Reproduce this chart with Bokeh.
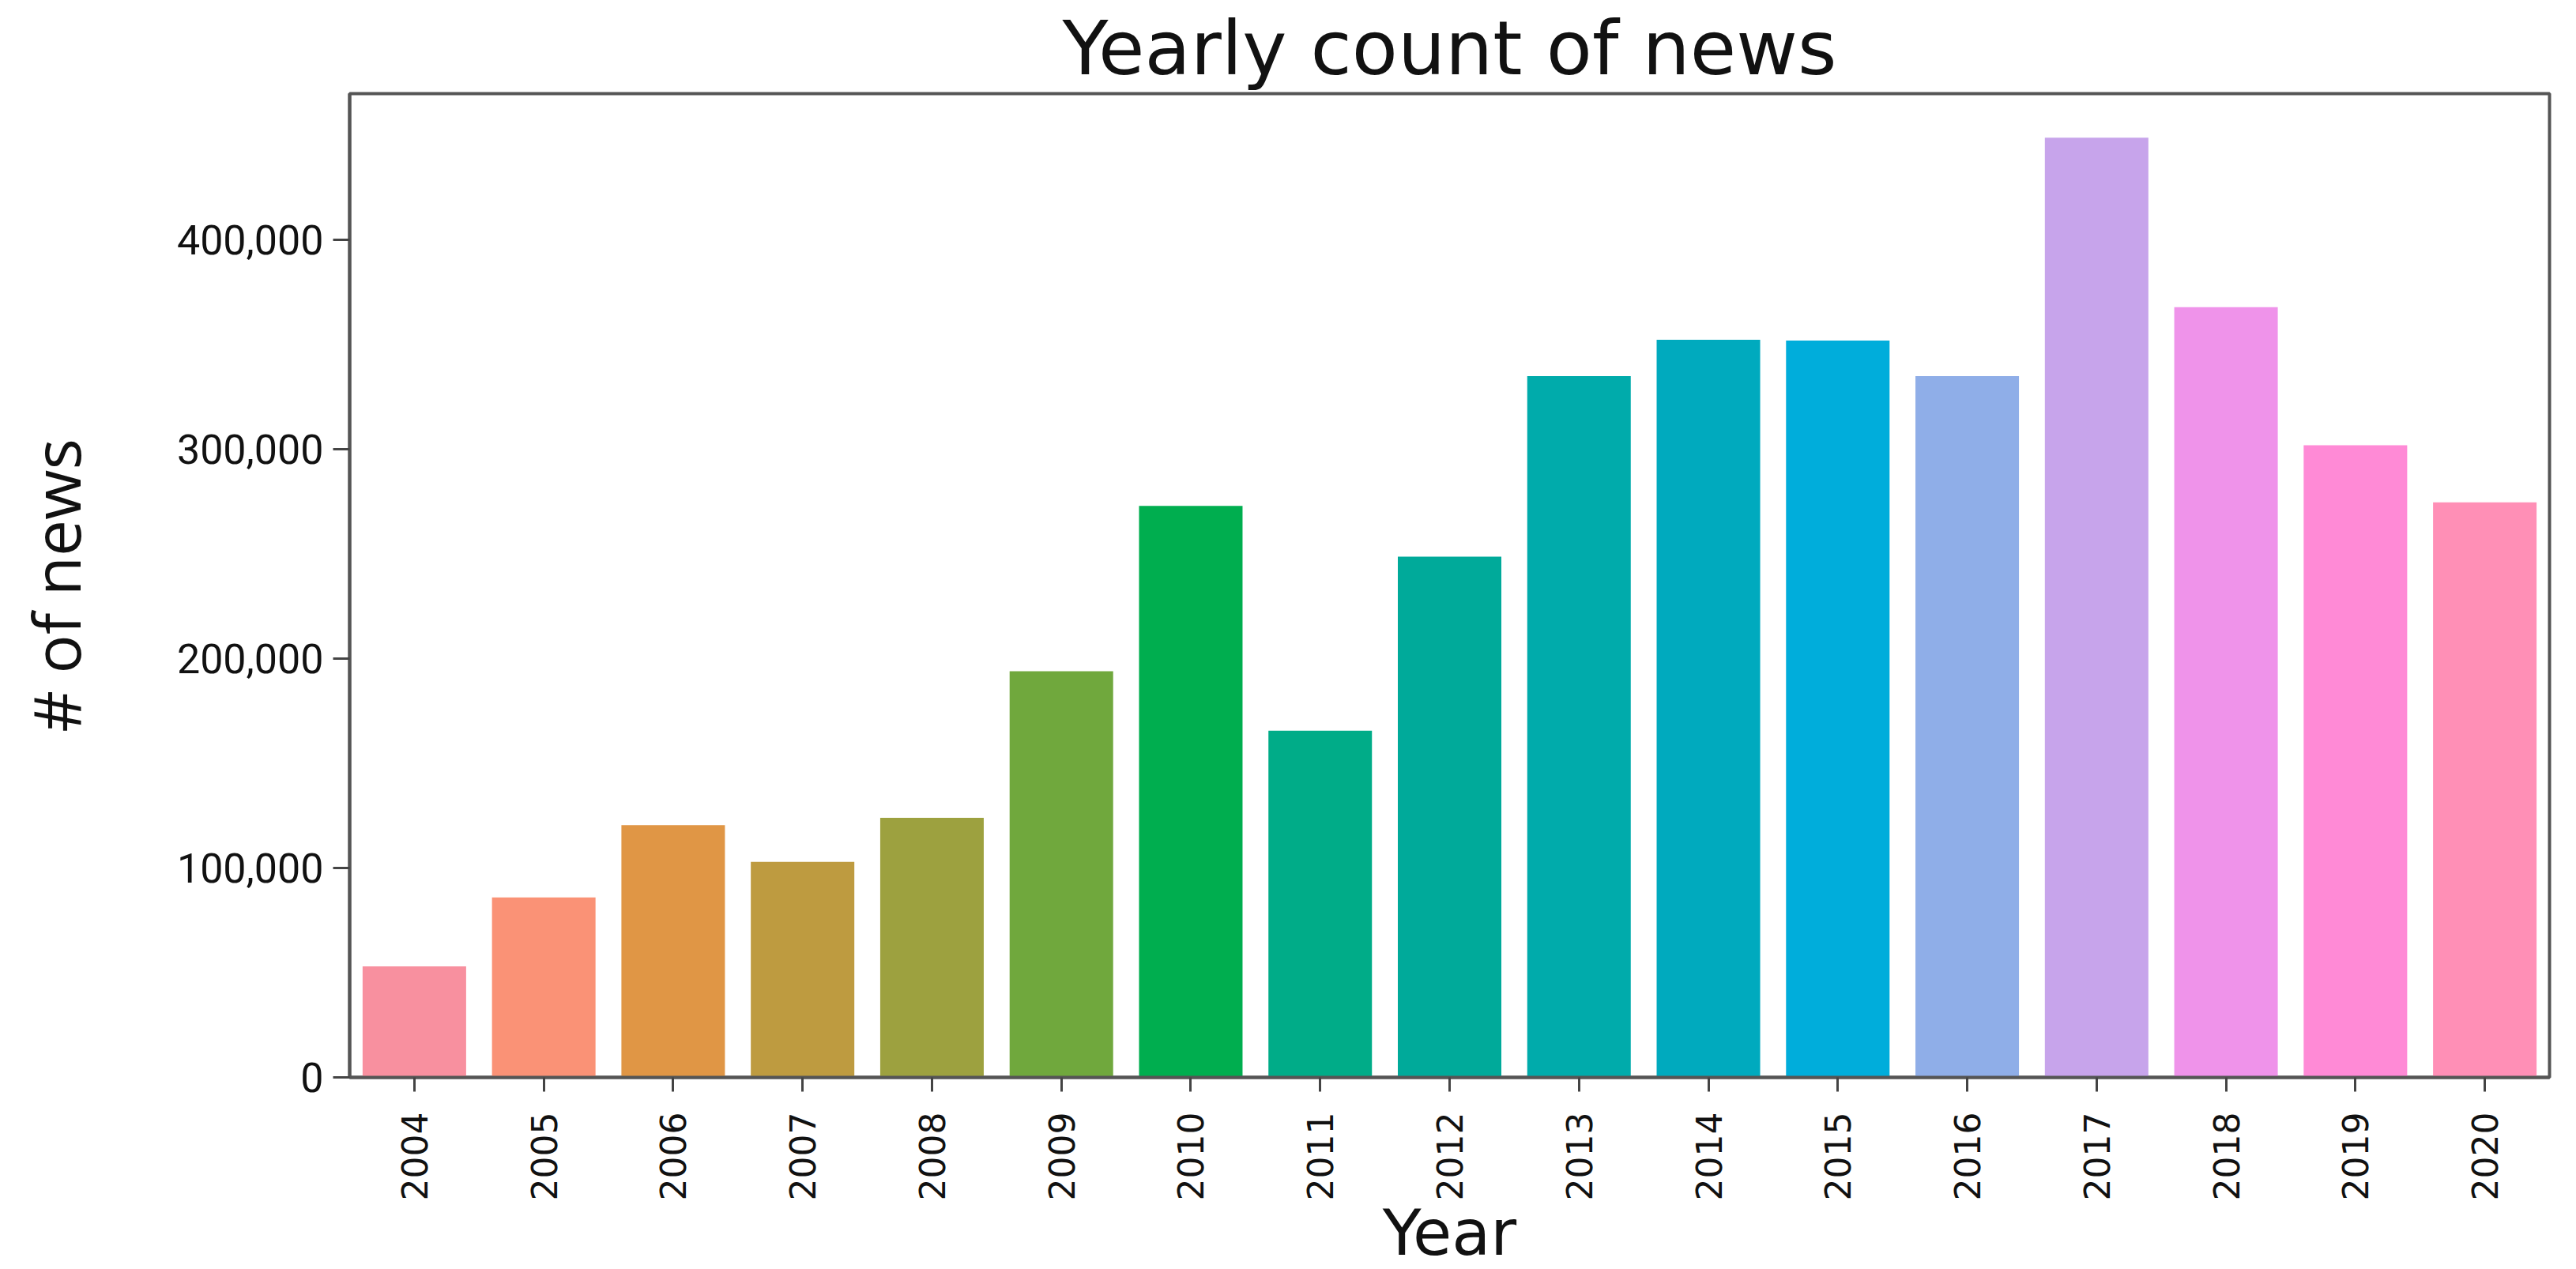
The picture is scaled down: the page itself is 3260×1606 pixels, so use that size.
from bokeh.plotting import figure
from bokeh.models import FactorRange, Range1d, NumeralTickFormatter, FixedTicker, ColumnDataSource
from bokeh.embed import file_html
from bokeh.resources import INLINE
import math

years = ["2004", "2005", "2006", "2007", "2008", "2009", "2010", "2011", "2012",
         "2013", "2014", "2015", "2016", "2017", "2018", "2019", "2020"]
counts = [53000, 86000, 120500, 103000, 124000, 194000, 273000, 165600, 248800,
          335000, 352400, 352000, 335000, 449000, 368000, 302000, 274700]
colors = ["#F8909F", "#FA9276", "#E09645", "#BE9B40", "#9DA13F", "#70A83D",
          "#00AE4F", "#00AC88", "#00AA9A", "#00ABAB", "#00AABE", "#00ADDB",
          "#8FAEE8", "#C7A4EB", "#EF93EA", "#FF8AD6", "#FF8FB6"]
y_ticks = [0, 100000, 200000, 300000, 400000]

source = ColumnDataSource(dict(year=years, count=counts, color=colors))

p = figure(
    x_range=FactorRange(factors=years, range_padding=0),
    y_range=Range1d(0, 470000),
    frame_width=2784, frame_height=1245,
    min_border_left=442, min_border_top=118, min_border_right=20, min_border_bottom=225,
    output_backend="svg", toolbar_location=None,
    title="Yearly count of news",
)

p.vbar(x="year", top="count", width=0.8, color="color", source=source, line_width=0)

p.title.text_font = "DejaVu Sans"
p.title.text_font_size = "95px"
p.title.text_font_style = "normal"
p.title.align = "center"
p.title.text_color = "#111111"
p.title.standoff = 6

p.xgrid.visible = False
p.ygrid.visible = False

p.outline_line_color = "#555555"
p.outline_line_width = 4
p.outline_line_alpha = 1.0

for ax in (p.xaxis[0], p.yaxis[0]):
    ax.axis_line_color = "#555555"
    ax.axis_line_width = 4
    ax.major_tick_line_color = "#444444"
    ax.major_tick_line_width = 3
    ax.major_tick_in = 0
    ax.minor_tick_line_color = None
    ax.major_label_text_color = "#111111"
    ax.axis_label_text_color = "#111111"
    ax.axis_label_text_font_style = "normal"

xa = p.xaxis[0]
xa.axis_label = "Year"
xa.axis_label_text_font = "DejaVu Sans"
xa.axis_label_text_font_size = "80px"
xa.axis_label_standoff = -8
xa.major_tick_out = 18
xa.major_label_standoff = 26
xa.major_label_orientation = math.pi / 2
xa.major_label_text_font = "DejaVu Sans"
xa.major_label_text_font_size = "44px"

ya = p.yaxis[0]
ya.axis_label = "# of news"
ya.axis_label_text_font = "Open Sans"
ya.axis_label_text_font_size = "82px"
ya.axis_label_standoff = 95
ya.major_tick_out = 21
ya.major_label_standoff = 12
ya.major_label_text_font = "Liberation Sans Narrow, Roboto"
ya.major_label_text_font_size = "52px"
ya.ticker = FixedTicker(ticks=y_ticks)
ya.formatter = NumeralTickFormatter(format="0,0")

p.background_fill_color = "white"
p.border_fill_color = "white"

open("out.html", "w").write(file_html(p, INLINE))
